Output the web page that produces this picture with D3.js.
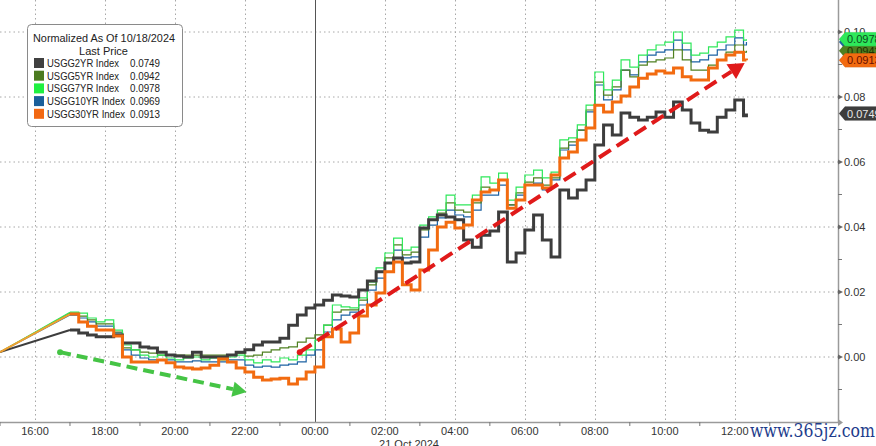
<!DOCTYPE html>
<html><head><meta charset="utf-8">
<script src="https://cdn.jsdelivr.net/npm/d3@7"></script>
<style>
body{margin:0;background:#fff;}
svg{display:block;font-family:"Liberation Sans",Arial,sans-serif;}
</style>
</head><body>
<svg id="c" width="876" height="446"></svg>
<script>
// ---------------- DATA ----------------
const seriesNames = ["USGG2YR Index","USGG5YR Index","USGG7YR Index","USGG10YR Index","USGG30YR Index"];
const lastPrices  = ["0.0749","0.0942","0.0978","0.0969","0.0913"];
const legendTitle = "Normalized As Of 10/18/2024";
const legendSub   = "Last Price";
const dateLabel   = "21 Oct 2024";
const xTickLabels = ["16:00","18:00","20:00","22:00","00:00","02:00","04:00","06:00","08:00","10:00","12:00"];
const yTickValues = [0.00,0.02,0.04,0.06,0.08,0.10];
const anchorTime  = "2024-10-20T15:00"; // Friday close anchor (normalization point)
const anchorValue = 0.0015;
const firstTime   = "2024-10-20T17:00";
const stepMinutes = 15;
const endTime     = "2024-10-21T12:20";

const usgg2 = [0.0083,0.0074,0.0068,0.0062,0.0062,0.0068,0.0043,0.0043,0.0031,0.0028,
 0.0015,0.0006,0.0003,0,0.0015,0,0,0,0.0006,0.0015,
 0.0022,0.0037,0.0046,0.0046,0.0058,0.0098,0.0129,0.0151,0.0160,0.0175,
 0.0191,0.0188,0.0185,0.0206,0.0234,0.0262,0.0289,0.0305,0.0289,0.0292,
 0.0397,0.0422,0.0437,0.0431,0.0422,0.0360,0.0338,0.0375,0.0388,0.0446,
 0.0292,0.0320,0.0391,0.0437,0.0360,0.0308,0.0514,0.0489,0.0514,0.0545,
 0.0652,0.0714,0.0683,0.0751,0.0738,0.0729,0.0738,0.0754,0.0738,0.0785,
 0.0760,0.0720,0.0698,0.0692,0.0738,0.0760,0.0791,0.0742,0.0749];
const usgg5 = [0.0135,0.0126,0.0114,0.0102,0.0102,0.0077,0.0028,0.0022,0.0015,0.0012,
 0.0006,0.0006,0.0006,0.0006,0.0006,0.0006,0.0006,0.0006,0.0006,0.0012,
 0.0003,0.0006,0.0015,0.0022,0.0028,0.0031,0.0046,0.0058,0.0068,0.0098,
 0.0138,0.0145,0.0145,0.0175,0.0222,0.0262,0.0305,0.0345,0.0314,0.0323,
 0.0391,0.0422,0.0443,0.0474,0.0452,0.0446,0.0474,0.0523,0.0514,0.0545,
 0.0468,0.0505,0.0538,0.0551,0.0529,0.0551,0.0643,0.0662,0.0698,0.0760,
 0.0846,0.0806,0.0831,0.0883,0.0862,0.0898,0.0908,0.0914,0.0920,0.0945,
 0.0914,0.0883,0.0883,0.0898,0.0914,0.0938,0.0960,0.0938,0.0942];
const usgg7 = [0.0138,0.0135,0.0120,0.0108,0.0114,0.0083,0.0037,0.0022,0.0006,0,
 0.0006,-0.0003,-0.0009,-0.0003,0,-0.0009,-0.0003,-0.0009,0,0.0006,
 -0.0009,-0.0018,-0.0009,-0.0015,-0.0003,-0.0009,0.0006,0.0022,0.0052,0.0098,
 0.0160,0.0154,0.0151,0.0182,0.0231,0.0274,0.0320,0.0366,0.0329,0.0338,
 0.0406,0.0431,0.0452,0.0498,0.0468,0.0468,0.0498,0.0554,0.0535,0.0566,
 0.0483,0.0523,0.0560,0.0575,0.0551,0.0569,0.0668,0.0674,0.0714,0.0775,
 0.0877,0.0822,0.0852,0.0914,0.0892,0.0929,0.0945,0.0960,0.0969,0.1000,
 0.0966,0.0929,0.0935,0.0954,0.0969,0.0985,0.1006,0.0975,0.0978];
const usgg10 = [0.0129,0.0120,0.0108,0.0095,0.0095,0.0074,0.0022,0.0006,-0.0003,-0.0009,
 -0.0009,-0.0009,-0.0015,-0.0015,-0.0012,-0.0015,-0.0015,-0.0015,-0.0009,-0.0009,
 -0.0025,-0.0031,-0.0028,-0.0031,-0.0025,-0.0022,-0.0015,0.0006,0.0022,0.0077,
 0.0114,0.0129,0.0138,0.0160,0.0206,0.0243,0.0289,0.0329,0.0305,0.0308,
 0.0369,0.0406,0.0428,0.0452,0.0437,0.0431,0.0452,0.0498,0.0498,0.0529,
 0.0468,0.0498,0.0529,0.0535,0.0514,0.0545,0.0637,0.0652,0.0698,0.0754,
 0.0837,0.0791,0.0822,0.0883,0.0868,0.0908,0.0929,0.0938,0.0945,0.0975,
 0.0945,0.0908,0.0914,0.0929,0.0945,0.0960,0.0982,0.0960,0.0969];
const usgg30 = [0.0132,0.0108,0.0095,0.0083,0.0083,0.0065,0,-0.0015,-0.0015,-0.0015,
 -0.0009,-0.0018,-0.0031,-0.0034,-0.0037,-0.0034,-0.0025,-0.0006,-0.0015,-0.0034,
 -0.0046,-0.0062,-0.0071,-0.0068,-0.0065,-0.0083,-0.0068,-0.0046,-0.0031,0.0062,
 0.0086,0.0046,0.0074,0.0126,0.0160,0.0197,0.0262,0.0292,0.0222,0.0206,
 0.0268,0.0329,0.0400,0.0415,0.0397,0.0406,0.0483,0.0508,0.0514,0.0545,
 0.0458,0.0483,0.0529,0.0529,0.0520,0.0560,0.0612,0.0631,0.0668,0.0705,
 0.0775,0.0754,0.0785,0.0803,0.0831,0.0858,0.0871,0.0880,0.0874,0.0889,
 0.0862,0.0852,0.0852,0.0889,0.0914,0.0929,0.0938,0.0914,0.0913];

// annotation arrows (time, value)
const greenArrow = [["2024-10-20T16:43",0.0015],["2024-10-20T22:03",-0.0108]];
const redArrow   = [["2024-10-20T23:34",0.0015],["2024-10-21T12:17",0.0905]];

// ---------------- STYLE ----------------
const lineColors  = ["#3d3d3d","#4f8020","#2ee85a","#1c62a3","#f26b10"];
const swatchColors= ["#404040","#4b7b1f","#1ff040","#1a5f9a","#f26812"];
const lineWidths  = [3,1.2,1.2,1.2,3];
const tagText     = ["#e8e8e8","#1d3300","#0b4d1d","#e8f0ff","#6a0f00"];
const nameWidths  = [72,72,72,78,78];

const W=876,H=446, plotR=838, plotB=422;
const svg = d3.select("#c");
const parse = d3.timeParse("%Y-%m-%dT%H:%M");

const x = d3.scaleTime()
  .domain([parse("2024-10-20T15:00"), parse("2024-10-21T14:57")])
  .range([0, plotR]);
const y = d3.scaleLinear().domain([-0.02,0.10]).range([plotB,32]);

// time stamps
const t0 = parse(firstTime);
const times = [parse(anchorTime)]
  .concat(d3.range(usgg2.length-1).map(i=>d3.timeMinute.offset(t0, i*stepMinutes)))
  .concat([parse(endTime)]);

const allSeries = [usgg2,usgg5,usgg7,usgg10,usgg30].map(v=>[anchorValue].concat(v));

// ---------------- GRID ----------------
const g = svg.append("g");
g.selectAll(".hg").data(yTickValues).join("line")
  .attr("x1",0).attr("x2",plotR).attr("y1",d=>y(d)).attr("y2",d=>y(d))
  .attr("stroke","#a8a8a8").attr("stroke-width",1).attr("stroke-dasharray","1.5,3");

const evenHours = d3.timeHour.every(2).range(parse("2024-10-20T16:00"), parse("2024-10-21T13:00"));
g.selectAll(".vg").data(evenHours).join("line")
  .attr("x1",d=>Math.round(x(d))+0.5).attr("x2",d=>Math.round(x(d))+0.5)
  .attr("y1",0).attr("y2",plotB)
  .attr("stroke",d=>d.getHours()===0?"#555":"#a8a8a8")
  .attr("stroke-width",1)
  .attr("stroke-dasharray",d=>d.getHours()===0?null:"1.5,3");

// ---------------- AXES ----------------
g.append("line").attr("x1",0).attr("x2",plotR+2).attr("y1",plotB+0.5).attr("y2",plotB+0.5)
  .attr("stroke","#9a9a9a").attr("stroke-width",1.5);
g.append("path").attr("d",`M${plotR},${plotB-3}L${plotR+5},${plotB+0.5}L${plotR},${plotB+4}Z`).attr("fill","#9a9a9a");
const oddHours = d3.timeHour.every(1).range(parse("2024-10-20T15:00"), parse("2024-10-21T14:00")).filter(d=>d.getHours()%2===1);
g.selectAll(".xt").data(oddHours).join("line")
  .attr("x1",d=>x(d)).attr("x2",d=>x(d)).attr("y1",plotB).attr("y2",plotB+4)
  .attr("stroke","#777").attr("stroke-width",1);
g.selectAll(".xl").data(evenHours).join("text")
  .attr("x",d=>x(d)).attr("y",435).attr("text-anchor","middle")
  .attr("font-size",11).attr("fill","#333")
  .text((d,i)=>xTickLabels[i]);
g.append("text").attr("x",x(parse("2024-10-21T01:50"))).attr("y",448)
  .attr("font-size",11).attr("fill","#333").text(dateLabel);

// y axis (right)
g.append("line").attr("x1",plotR+0.5).attr("x2",plotR+0.5).attr("y1",0).attr("y2",plotB)
  .attr("stroke","#9a9a9a").attr("stroke-width",1.5);
const minorY = [-0.01,0.01,0.03,0.05,0.07,0.09];
g.selectAll(".ym").data(minorY).join("line")
  .attr("x1",plotR).attr("x2",plotR+4).attr("y1",d=>y(d)).attr("y2",d=>y(d))
  .attr("stroke","#777");
g.selectAll(".yt").data(yTickValues).join("path")
  .attr("d",d=>`M${plotR},${y(d)-2.5}L${plotR+5},${y(d)}L${plotR},${y(d)+2.5}Z`).attr("fill","#666");
g.selectAll(".yl").data(yTickValues).join("text")
  .attr("x",plotR+6).attr("y",d=>y(d)+4).attr("font-size",11).attr("fill","#333")
  .text(d=>d3.format(".2f")(d));

// ---------------- LINES ----------------
const lineStep = d3.line().x(d=>x(d[0])).y(d=>y(d[1])).curve(d3.curveStepAfter);
const lineLin  = d3.line().x(d=>x(d[0])).y(d=>y(d[1]));
const drawOrder = [3,1,2,0,4];
drawOrder.forEach(k=>{
  const pts = times.map((t,i)=>[t, allSeries[k][i]]);
  svg.append("path").attr("d",lineLin(pts.slice(0,2))).attr("fill","none")
    .attr("stroke",k===4?"#f0a030":lineColors[k]).attr("stroke-width",k===4?2:(k===0?2:1.2));
  svg.append("path").attr("d",lineStep(pts.slice(1))).attr("fill","none")
    .attr("stroke",lineColors[k]).attr("stroke-width",lineWidths[k])
    .attr("stroke-linejoin","miter");
});

// ---------------- ARROWS ----------------
function arrow(spec, color, width, dash, head){
  const p0=[x(parse(spec[0][0])), y(spec[0][1])], p1=[x(parse(spec[1][0])), y(spec[1][1])];
  const dx=p1[0]-p0[0], dy=p1[1]-p0[1], L=Math.hypot(dx,dy), ux=dx/L, uy=dy/L;
  const bx=p1[0]-ux*head, by=p1[1]-uy*head;
  svg.append("line").attr("x1",p0[0]).attr("y1",p0[1]).attr("x2",bx).attr("y2",by)
    .attr("stroke",color).attr("stroke-width",width).attr("stroke-dasharray",dash);
  svg.append("circle").attr("cx",p0[0]).attr("cy",p0[1]).attr("r",width*0.75).attr("fill",color);
  const hw=head*0.55;
  svg.append("path").attr("d",`M${p1[0]},${p1[1]}L${bx-uy*hw},${by+ux*hw}L${bx+uy*hw},${by-ux*hw}Z`).attr("fill",color);
}
arrow(greenArrow,"#45c445",4,"11,6",14);
arrow(redArrow,"#e01a1a",4,"14,7",16);

// ---------------- TAGS ----------------
const tagOrder=[3,1,2,4,0];
tagOrder.forEach(k=>{
  const v=+lastPrices[k], yy=y(v);
  svg.append("path")
    .attr("d",`M${plotR+1},${yy}L${plotR+7},${yy-7}H${W+4}V${yy+7}H${plotR+7}Z`)
    .attr("fill",lineColors[k])
    .attr("stroke","rgba(0,0,0,0.15)").attr("stroke-width",0.5);
  svg.append("text").attr("x",plotR+9).attr("y",yy+4).attr("font-size",11)
    .attr("fill",tagText[k]).text(lastPrices[k]);
});

// ---------------- LEGEND ----------------
const lg = svg.append("g");
lg.append("rect").attr("x",27.5).attr("y",24.5).attr("width",155).attr("height",102).attr("rx",4)
  .attr("fill","#fff").attr("stroke","#8a8a8a");
lg.append("text").attr("x",33).attr("y",42).attr("font-size",11).attr("fill","#222")
  .attr("textLength",142).attr("lengthAdjust","spacingAndGlyphs").text(legendTitle);
lg.append("text").attr("x",79).attr("y",55).attr("font-size",11).attr("fill","#222")
  .attr("textLength",49).attr("lengthAdjust","spacingAndGlyphs").text(legendSub);
seriesNames.forEach((n,i)=>{
  const yy=67+i*12.7;
  lg.append("rect").attr("x",34).attr("y",yy-9).attr("width",10).attr("height",10).attr("fill",swatchColors[i]);
  lg.append("text").attr("x",47).attr("y",yy).attr("font-size",11).attr("fill","#222")
    .attr("textLength",nameWidths[i]).attr("lengthAdjust","spacingAndGlyphs").text(n);
  lg.append("text").attr("x",130).attr("y",yy).attr("font-size",11).attr("fill","#222")
    .attr("textLength",30).attr("lengthAdjust","spacingAndGlyphs").text(lastPrices[i]);
});

// watermark
svg.append("text").attr("x",750).attr("y",437).attr("font-family","'DejaVu Serif',serif")
  .attr("font-size",19).attr("fill","#1e3c8c").attr("textLength",125).attr("lengthAdjust","spacingAndGlyphs")
  .text("www.365jz.com");
</script>
</body></html>
